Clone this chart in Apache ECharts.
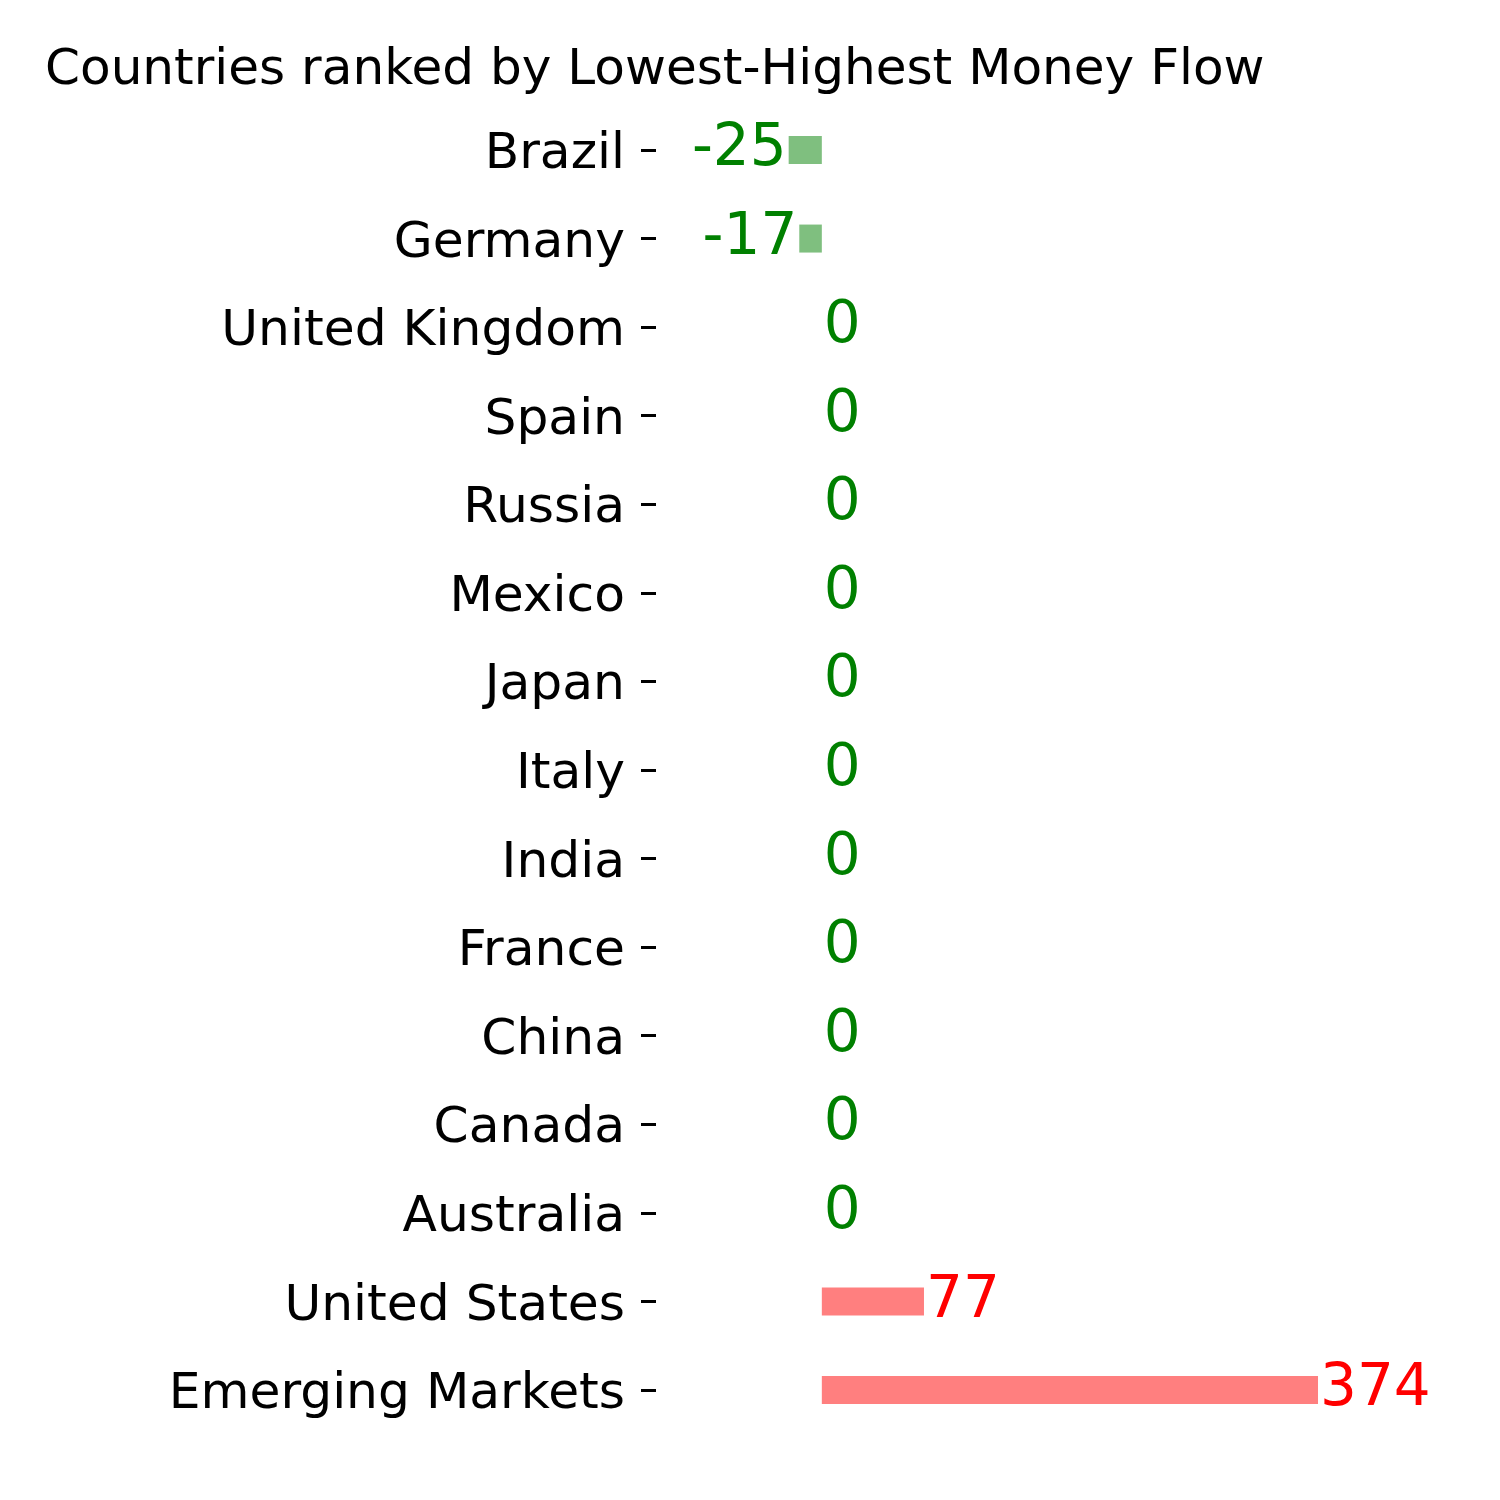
<!DOCTYPE html>
<html><head><meta charset="utf-8">
<script src="https://cdn.jsdelivr.net/npm/echarts@6/dist/echarts.min.js"></script>
<style>html,body{margin:0;padding:0;background:#fff}#c{width:1500px;height:1500px}</style>
</head><body><div id="c"></div>
<script>
const titleText = 'Countries ranked by Lowest-Highest Money Flow';
const countries = ['Brazil','Germany','United Kingdom','Spain','Russia','Mexico','Japan','Italy','India','France','China','Canada','Australia','United States','Emerging Markets'];
const moneyFlow = [-25,-17,0,0,0,0,0,0,0,0,0,0,0,77,374];

const FONT = 'DejaVu Sans';
const data = moneyFlow.map(v => {
  const pos = v > 0;
  return {
    value: v,
    itemStyle: { color: pos ? 'rgba(255,0,0,0.5)' : 'rgba(0,128,0,0.5)' },
    label: {
      show: true,
      position: v < 0 ? 'left' : 'right',
      distance: 2,
      color: pos ? '#ff0000' : '#008000'
    }
  };
});

const chart = echarts.init(document.getElementById('c'));
chart.setOption({
  animation: false,
  title: {
    text: titleText, left: 40, top: 41,
    textStyle: { fontFamily: FONT, fontSize: 50.1, fontWeight: 'normal', color: '#000' }
  },
  grid: { left: 656, right: 48, top: 105.7, bottom: 65.7, containLabel: false },
  xAxis: {
    type: 'value', min: -125, max: 475, show: false
  },
  yAxis: {
    type: 'category', data: countries, inverse: true,
    axisLine: { show: false, onZero: false },
    axisTick: { show: true, alignWithLabel: true, length: 15, lineStyle: { color: '#000', width: 3 } },
    axisLabel: {
      margin: 31, color: '#000',
      formatter: v => '{a|' + v + '}',
      rich: { a: { fontFamily: FONT, fontSize: 50.3, color: '#000', padding: [10, 0, 0, 0] } }
    },
    splitLine: { show: false }
  },
  series: [{
    type: 'bar', data: data, barWidth: 28,
    label: { fontFamily: FONT, fontSize: 58, formatter: p => String(p.value) }
  }]
});
</script></body></html>
